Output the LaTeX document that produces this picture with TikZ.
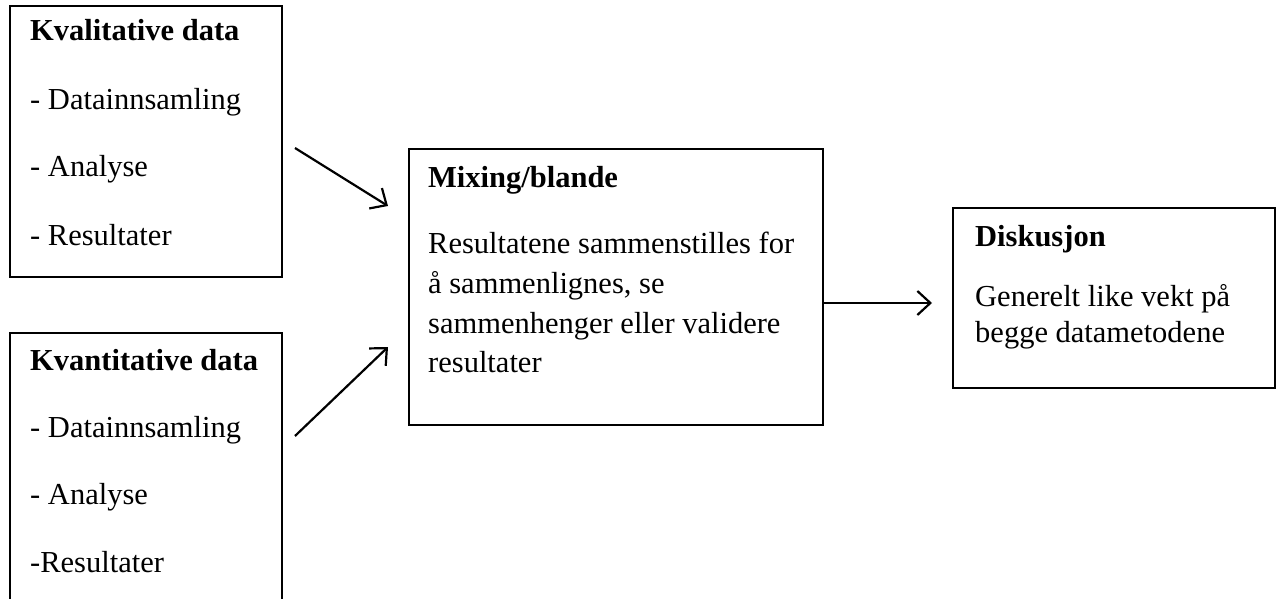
\documentclass[tikz,border=0pt]{standalone}
\usepackage{fontspec}
\setmainfont{Liberation Serif}
\usetikzlibrary{arrows.meta}
\begin{document}
\begin{tikzpicture}[x=1pt,y=-1pt,
  box/.style={draw, line width=2pt, inner sep=0pt, anchor=north west},
  txt/.style={anchor=base west, inner sep=0pt, font=\fontsize{30.5}{36}\selectfont},
  ttl/.style={anchor=base west, inner sep=0pt, font=\fontsize{30.5}{36}\selectfont\bfseries},
  arr/.style={line width=2.2pt, -{Straight Barb[length=13pt,width=24pt,line width=2.2pt]}}]
\useasboundingbox (0,0) rectangle (1280,599);
\clip (0,0) rectangle (1280,599);
% boxes
\node[box, minimum width=272pt, minimum height=271pt] (kval) at (9,5) {};
\node[box, minimum width=272pt, minimum height=300pt] (kvan) at (9,332) {};
\node[box, minimum width=414pt, minimum height=276pt] (mix) at (408,148) {};
\node[box, minimum width=322pt, minimum height=180pt] (disk) at (952,207) {};
% texts box 1
\node[ttl] (t1) at (30,41) {Kvalitative data};
\node[txt] (t1a) at (30,110) {- Datainnsamling};
\node[txt] (t1b) at (30,176) {- Analyse};
\node[txt] (t1c) at (30,245) {- Resultater};
% texts box 2
\node[ttl] (t2) at (30,370) {Kvantitative data};
\node[txt] (t2a) at (30,437) {- Datainnsamling};
\node[txt] (t2b) at (30,504) {- Analyse};
\node[txt] (t2c) at (30,572) {-Resultater};
% middle
\node[ttl] (t3) at (428,187) {Mixing/blande};
\node[txt] (t3a) at (428,253) {Resultatene sammenstilles for};
\node[txt] (t3b) at (428,293) {å sammenlignes, se};
\node[txt] (t3c) at (428,333) {sammenhenger eller validere};
\node[txt] (t3d) at (428,372) {resultater};
% right
\node[ttl] (t4) at (975,246) {Diskusjon};
\node[txt] (t4a) at (975,306) {Generelt like vekt på};
\node[txt] (t4b) at (975,342) {begge datametodene};
% arrows
\coordinate (a1s) at (295,148);
\coordinate (a1e) at (388,206);
\coordinate (a2s) at (295,436);
\coordinate (a2e) at (388,347);
\coordinate (a3e) at (932,303);
\draw[arr] (a1s) -- (a1e);
\draw[arr] (a2s) -- (a2e);
\draw[arr] (mix.east |- a3e) -- (a3e);
\end{tikzpicture}
\end{document}
